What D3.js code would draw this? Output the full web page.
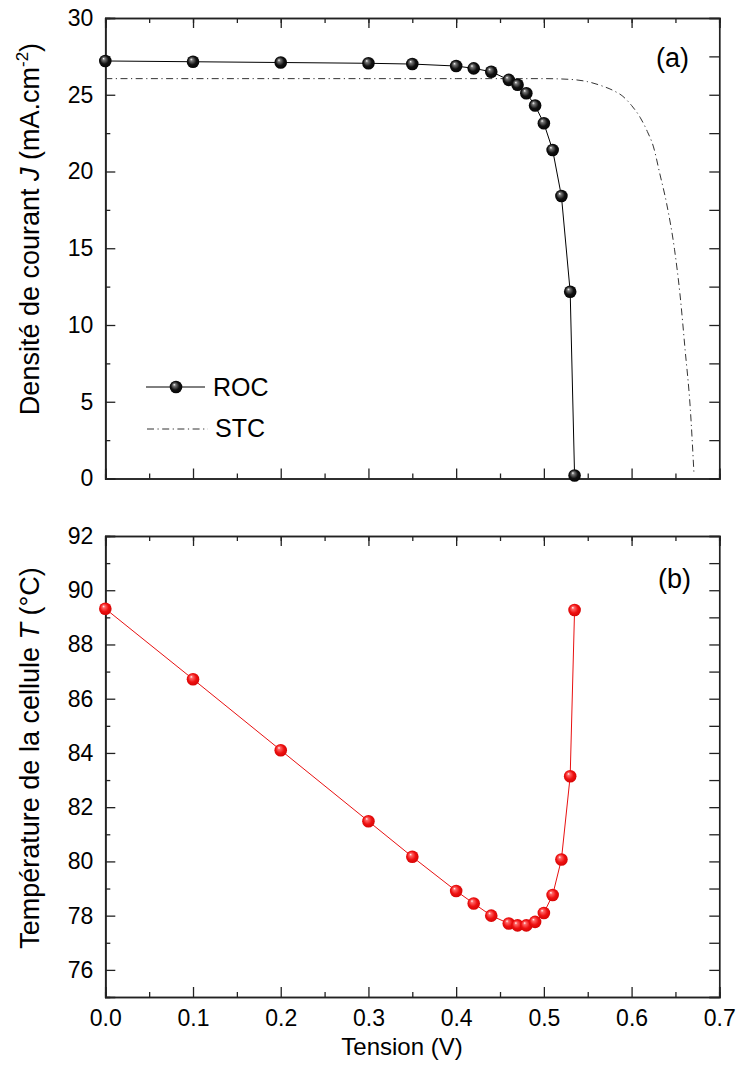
<!DOCTYPE html>
<html><head><meta charset="utf-8">
<script src="https://cdn.jsdelivr.net/npm/d3@7"></script>
<style>
body{margin:0;background:#fff;}
text{font-family:"Liberation Sans",Arial,sans-serif;fill:#000;}
</style></head>
<body><svg id="c" width="737" height="1077"></svg>
<script>
// ---- data ----
const voltage = [0, 0.1, 0.2, 0.3, 0.35, 0.4, 0.42, 0.44, 0.46, 0.47, 0.48, 0.49, 0.5, 0.51, 0.52, 0.53, 0.535];
const currentROC = [27.2, 27.15, 27.1, 27.05, 27.0, 26.87, 26.72, 26.5, 25.97, 25.65, 25.1, 24.3, 23.14, 21.4, 18.4, 12.17, 0.2];
const voltageSTC = [0, 0.1, 0.2, 0.3, 0.4, 0.5, 0.53, 0.55, 0.565, 0.58, 0.59, 0.6, 0.61, 0.618, 0.625, 0.632, 0.64, 0.649, 0.655, 0.661, 0.667, 0.671];
const currentSTC = [26.05, 26.05, 26.05, 26.05, 26.05, 26.05, 26.0, 25.85, 25.6, 25.25, 24.9, 24.3, 23.5, 22.6, 21.6, 19.9, 17.9, 14.9, 12.1, 8.4, 4.5, 0.45];
const temperature = [89.32, 86.72, 84.1, 81.48, 80.17, 78.91, 78.45, 78.0, 77.71, 77.64, 77.64, 77.77, 78.1, 78.76, 80.07, 83.14, 89.27];
const xTicks = [0, 0.1, 0.2, 0.3, 0.4, 0.5, 0.6, 0.7];
const jTicks = [0, 5, 10, 15, 20, 25, 30];
const tTicks = [76, 78, 80, 82, 84, 86, 88, 90, 92];
const seriesNames = ["ROC", "STC"];

const svg = d3.select("#c");
const x = d3.scaleLinear().domain([0, 0.7]).range([105.3, 719.3]);
const yJ = d3.scaleLinear().domain([0, 30]).range([478.5, 18]);
const yT = d3.scaleLinear().domain([75, 92]).range([997, 536]);

// gradients
const defs = svg.append("defs");
function ball(id, c0, c1, c2, c3) {
  const g = defs.append("radialGradient").attr("id", id).attr("cx", "0.5").attr("cy", "0.5").attr("r", "0.6").attr("fx", "0.35").attr("fy", "0.3");
  g.append("stop").attr("offset", "0").attr("stop-color", c0);
  g.append("stop").attr("offset", "0.18").attr("stop-color", c1);
  g.append("stop").attr("offset", "0.55").attr("stop-color", c2);
  g.append("stop").attr("offset", "1").attr("stop-color", c3);
}
ball("gb", "#ffffff", "#777777", "#111111", "#000000");
ball("gr", "#ffffff", "#ff6666", "#ee1111", "#cc0000");

const minor = (a, b, s) => d3.range(Math.round((b - a) / s) + 1).map(i => +(a + i * s).toFixed(4));
const fs = 23;

function panel(y, yMajor, yMinor, rightTicks, showXLabels) {
  const [y0, y1] = y.range();
  const [x0, x1] = x.range();
  const g = svg.append("g");
  g.append("g").attr("transform", `translate(0,${y0})`)
    .call(d3.axisBottom(x).tickValues(minor(0, 0.7, 0.05).filter(v => Math.abs(v * 10 - Math.round(v * 10)) > 1e-6)).tickSize(-5).tickFormat(""));
  g.append("g").attr("transform", `translate(0,${y0})`)
    .call(d3.axisBottom(x).tickValues(xTicks).tickSize(-10).tickPadding(13)
      .tickFormat(showXLabels ? d3.format(".1f") : ""));
  g.append("g").attr("transform", `translate(0,${y1})`)
    .call(d3.axisTop(x).tickValues(minor(0, 0.7, 0.05)).tickSize(-5).tickFormat(""));
  g.append("g").attr("transform", `translate(0,${y1})`)
    .call(d3.axisTop(x).tickValues(xTicks).tickSize(-10).tickFormat(""));
  g.append("g").attr("transform", `translate(${x0},0)`)
    .call(d3.axisLeft(y).tickValues(yMinor).tickSize(-5).tickFormat(""));
  g.append("g").attr("transform", `translate(${x0},0)`)
    .call(d3.axisLeft(y).tickValues(yMajor).tickSize(-10).tickPadding(12).tickFormat(d3.format("d")));
  g.append("g").attr("transform", `translate(${x1},0)`)
    .call(d3.axisRight(y).tickValues(rightTicks).tickSize(-10).tickFormat(""));
  g.selectAll(".domain").attr("stroke", "#222").attr("stroke-width", 1.7);
  g.selectAll(".tick line").attr("stroke", "#222").attr("stroke-width", 1.3);
  g.selectAll(".tick text").attr("font-size", fs).attr("font-family", '"Liberation Sans",Arial,sans-serif').attr("fill", "#000");
  return g;
}

// ---- panel (a) ----
panel(yJ, jTicks, minor(2.5, 27.5, 5), minor(0, 30, 2.5), false);

const lineJ = d3.line().x((d, i) => x(voltage[i])).y(d => yJ(d));
svg.append("path").attr("d", lineJ(currentROC)).attr("fill", "none").attr("stroke", "#000").attr("stroke-width", 1);
const lineS = d3.line().x((d, i) => x(voltageSTC[i])).y(d => yJ(d)).curve(d3.curveMonotoneX);
svg.append("path").attr("d", lineS(currentSTC)).attr("fill", "none").attr("stroke", "#333").attr("stroke-width", 1).attr("stroke-dasharray", "7,3.5,1.2,3.5");
svg.append("g").selectAll("circle").data(currentROC).join("circle")
  .attr("cx", (d, i) => x(voltage[i])).attr("cy", d => yJ(d)).attr("r", 6.3).attr("fill", "url(#gb)");

// legend
const lg = svg.append("g");
lg.append("line").attr("x1", 146).attr("x2", 205).attr("y1", 387).attr("y2", 387).attr("stroke", "#000").attr("stroke-width", 1);
lg.append("circle").attr("cx", 176).attr("cy", 387).attr("r", 6.3).attr("fill", "url(#gb)");
lg.append("text").attr("x", 213).attr("y", 396).attr("font-size", 25).text(seriesNames[0]);
lg.append("line").attr("x1", 147).attr("x2", 208).attr("y1", 429).attr("y2", 429).attr("stroke", "#333").attr("stroke-width", 1).attr("stroke-dasharray", "7,3.5,1.2,3.5");
lg.append("text").attr("x", 215).attr("y", 437).attr("font-size", 25).text(seriesNames[1]);
svg.append("text").attr("x", 656).attr("y", 67).attr("font-size", 27).text("(a)");

// y title (a)
const ta = svg.append("text").attr("transform", "translate(39,229) rotate(-90)").attr("text-anchor", "middle").attr("font-size", 27);
ta.append("tspan").text("Densité de courant ");
ta.append("tspan").attr("font-style", "italic").text("J");
ta.append("tspan").text(" (mA.cm");
ta.append("tspan").attr("font-size", 17).attr("dy", -11).text("-2");
ta.append("tspan").attr("dy", 11).text(")");

// ---- panel (b) ----
panel(yT, tTicks, minor(77, 91, 2), minor(75, 92, 1), true);
const lineT = d3.line().x((d, i) => x(voltage[i])).y(d => yT(d));
svg.append("path").attr("d", lineT(temperature)).attr("fill", "none").attr("stroke", "#e81010").attr("stroke-width", 1);
svg.append("g").selectAll("circle").data(temperature).join("circle")
  .attr("cx", (d, i) => x(voltage[i])).attr("cy", d => yT(d)).attr("r", 6.3).attr("fill", "url(#gr)");
svg.append("text").attr("x", 658).attr("y", 588).attr("font-size", 27).text("(b)");

const tb = svg.append("text").attr("transform", "translate(39,758) rotate(-90)").attr("text-anchor", "middle").attr("font-size", 27);
tb.append("tspan").text("Température de la cellule ");
tb.append("tspan").attr("font-style", "italic").text("T");
tb.append("tspan").text(" (°C)");

svg.append("text").attr("x", 402).attr("y", 1055).attr("text-anchor", "middle").attr("font-size", 24).text("Tension (V)");
</script></body></html>
